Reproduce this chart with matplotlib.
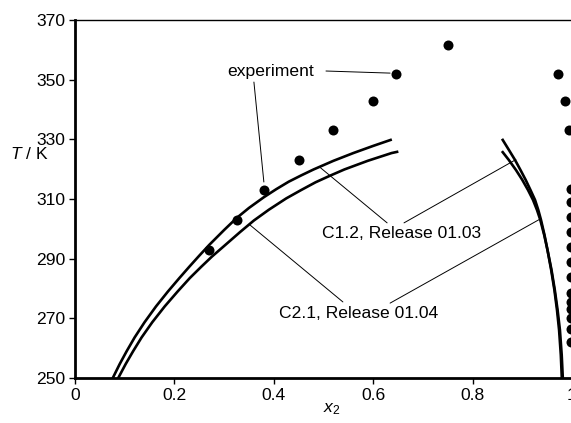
import matplotlib
matplotlib.use("Agg")
import matplotlib.pyplot as plt
from matplotlib.ticker import FormatStrFormatter, FuncFormatter

# experimental points
exp_x = [0.27, 0.325, 0.38, 0.45, 0.52, 0.60, 0.645, 0.75, 0.972, 0.986, 0.994,
         0.998, 0.998, 0.998, 0.998, 0.998, 0.998, 0.998, 0.998, 0.998, 0.998,
         0.998, 0.998, 0.998]
exp_T = [293, 303, 313, 323, 333, 343, 352, 361.5, 352, 343, 333,
         313.5, 309, 304, 299, 294, 289, 284, 278.5, 275.5, 273, 270, 266.5, 262]

# C1.2, Release 01.03 (left and right branches)
c12_left_x = [0.076, 0.09, 0.104, 0.12, 0.14, 0.163, 0.187, 0.21, 0.23, 0.25, 0.27,
              0.30, 0.325, 0.35, 0.38, 0.405, 0.43, 0.455, 0.48, 0.52, 0.56, 0.60, 0.635]
c12_left_T = [250, 254.7, 259.0, 263.6, 268.7, 274.0, 279.0, 283.5, 287.3, 291.0, 294.6,
              299.6, 303.6, 307.0, 310.6, 313.3, 315.8, 317.9, 319.9, 322.8, 325.4, 327.8, 329.8]
c12_right_x = [0.8606, 0.8732, 0.8853, 0.8964, 0.9068, 0.9165, 0.9256, 0.9322, 0.9376,
               0.9447, 0.9507, 0.9581, 0.9646, 0.9698, 0.9740, 0.9775, 0.9795]
c12_right_T = [329.8, 326.4, 323.1, 319.7, 316.4, 313.0, 309.7, 306.3, 303.0,
               297.9, 292.9, 286.2, 279.5, 272.8, 266.1, 257.7, 250]

# C2.1, Release 01.04
c21_left_x = [0.087, 0.102, 0.117, 0.134, 0.1555, 0.1805, 0.2065, 0.231, 0.2535, 0.2755,
              0.299, 0.332, 0.36, 0.39, 0.425, 0.455, 0.484, 0.513, 0.542, 0.589, 0.637,
              0.648]
c21_left_T = [250, 254.7, 259.0, 263.6, 268.7, 274.0, 279.0, 283.5, 287.2, 290.7,
              294.1, 298.9, 302.8, 306.4, 310.2, 313.0, 315.6, 317.8, 319.9, 322.8, 325.4,
              325.8]
c21_right_x = [0.8606, 0.8728, 0.8873, 0.9000, 0.9115, 0.9215, 0.9296, 0.9362, 0.9441,
               0.9507, 0.9588, 0.9654, 0.9710, 0.9757, 0.9793, 0.9815]
c21_right_T = [325.7, 323.1, 319.7, 316.4, 313.0, 309.7, 306.3, 303.0, 297.9,
               292.9, 286.2, 279.5, 272.8, 266.1, 257.7, 250]

plt.rcParams.update({
    "font.family": "Liberation Sans", "font.size": 12.6,
    "mathtext.fontset": "custom", "mathtext.rm": "Liberation Sans",
    "mathtext.it": "Liberation Sans:italic",
})

fig = plt.figure(figsize=(5.71, 4.23), dpi=100)
ax = fig.add_axes([75 / 571, 45 / 423, 497 / 571, 358 / 423])

lw = 1.9
ax.plot(c12_left_x, c12_left_T, color="black", lw=lw)
ax.plot(c12_right_x, c12_right_T, color="black", lw=lw)
ax.plot(c21_left_x, c21_left_T, color="black", lw=lw)
ax.plot(c21_right_x, c21_right_T, color="black", lw=lw)
ax.plot(exp_x, exp_T, "o", color="black", ms=7.2, mec="none", clip_on=False)

# leader lines (label -> curve / point)
leaders = [
    ((0.360, 349.2), (0.380, 315.7)),
    ((0.505, 352.9), (0.634, 352.2)),
    ((0.628, 302.0), (0.493, 320.6)),
    ((0.662, 302.0), (0.887, 323.2)),
    ((0.539, 275.5), (0.352, 301.3)),
    ((0.634, 275.1), (0.936, 303.3)),
]
for start, end in leaders:
    ax.annotate("", xy=end, xytext=start,
                arrowprops=dict(arrowstyle="-", lw=0.7, color="black",
                                shrinkA=0, shrinkB=0))

ax.text(0.394, 352.6, "experiment", ha="center", va="center")
ax.text(0.658, 298.6, "C1.2, Release 01.03", ha="center", va="center")
ax.text(0.570, 271.5, "C2.1, Release 01.04", ha="center", va="center")
ax.text(-0.0915, 325, "$T$ / K", ha="center", va="center")

ax.set_xlim(0, 1)
ax.set_ylim(250, 370)
ax.set_xticks([0, 0.2, 0.4, 0.6, 0.8, 1.0])
ax.set_yticks(range(250, 371, 20))
ax.xaxis.set_major_formatter(FuncFormatter(lambda v, p: f"{v:g}"))
ax.yaxis.set_major_formatter(FormatStrFormatter("%d"))
ax.tick_params(direction="out", length=4, width=1, pad=3)
ax.set_xlabel("$x_2$")
ax.xaxis.set_label_coords(0.517, -0.065, transform=ax.transAxes)
ax.xaxis.label.set_va("top")

ax.spines["right"].set_visible(False)
ax.spines["left"].set_linewidth(2)
ax.spines["bottom"].set_linewidth(2)
ax.spines["top"].set_linewidth(1)

fig.savefig("out.png", dpi=100)
